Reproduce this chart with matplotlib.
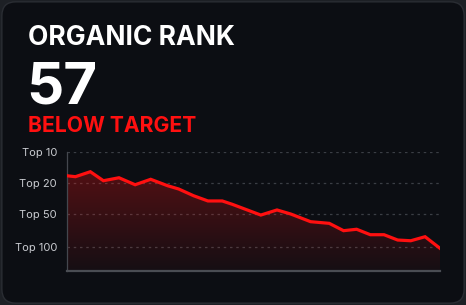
import matplotlib
matplotlib.use("Agg")
import matplotlib.pyplot as plt
import numpy as np
from matplotlib.patches import FancyBboxPatch

# data (x = day, y = visibility score 0..100)
days = [0, 0.7, 1.9, 2.95, 4.2, 5.5, 6.75, 8.1, 9.0, 10.2, 11.35, 12.5, 13.3,
        15.6, 16.9, 18.0, 19.6, 21.1, 22.25, 23.3, 24.4, 25.5, 26.6, 27.65, 28.8, 30]
score = [80.2, 79.4, 83.6, 76.0, 78.5, 72.6, 77.2, 71.8, 69.0, 63.3, 58.9, 58.9, 56.1,
         47.0, 51.3, 47.9, 41.4, 40.0, 33.8, 35.0, 30.4, 30.4, 25.9, 25.3, 28.7, 18.9]
tick_scores = [100, 74, 48, 20]
tick_labels = ["Top 10", "Top 20", "Top 50", "Top 100"]

title = "ORGANIC RANK"
current_rank = "57"
status = "BELOW TARGET"

BG = "#0c0e13"
RED = "#ff1010"

plt.rcParams['font.family'] = ['Inter', 'DejaVu Sans']

fig = plt.figure(figsize=(4.66, 3.05), dpi=100, facecolor="#1d2025")

# card background
card = FancyBboxPatch((0.004, 0.006), 0.992, 0.988,
                      boxstyle="round,pad=0,rounding_size=0.03",
                      transform=fig.transFigure, facecolor=BG,
                      edgecolor="#2a2d33", linewidth=1.0, mutation_aspect=466 / 305,
                      zorder=-10)
fig.patches.append(card)

# header texts
fig.text(28 / 466, 1 - 45 / 305, title, color="white", fontsize=19,
         fontweight="bold", va="baseline", ha="left")
fig.text(26 / 466, 1 - 103 / 305, current_rank, color="white", fontsize=42,
         fontweight="bold", va="baseline", ha="left")
fig.text(28 / 466, 1 - 132 / 305, status, color=RED, fontsize=15.2,
         fontweight="bold", va="baseline", ha="left")

ax = fig.add_axes([66.7 / 466, 1 - 270.7 / 305, (440 - 66.7) / 466, (270.7 - 152.3) / 305])
ax.set_zorder(5)
ax.set_facecolor("none")
ax.set_xlim(days[0], days[-1])
ax.set_ylim(0, 100)

# gradient fill under the line
fill = ax.fill_between(days, score, 0, facecolor="none", edgecolor="none")
grad = np.zeros((100, 2, 4))
grad[:, :, 0] = 1.0
grad[:, :, 1] = 0.08
grad[:, :, 2] = 0.08
alpha = np.linspace(0.04, 0.30, 100)
grad[:, :, 3] = alpha[:, None]
img = ax.imshow(grad, aspect="auto", extent=[days[0], days[-1], 0, 88],
                origin="lower", zorder=1, interpolation="bilinear")
img.set_clip_path(fill.get_paths()[0], transform=ax.transData)

ax.plot(days, score, color=RED, linewidth=2.3, solid_joinstyle="miter", zorder=3)

for t in tick_scores:
    ax.axhline(t, color="#3b3e45", linewidth=0.9, linestyle=(0, (2, 3)), zorder=0)

ax.set_yticks(tick_scores)
ax.set_yticklabels(tick_labels)
ax.set_xticks([])
ax.tick_params(axis="y", length=0, pad=7, labelsize=8, labelcolor="#c9cbd0")
for s in ["top", "right"]:
    ax.spines[s].set_visible(False)
ax.spines["left"].set_color("#44474e")
ax.spines["left"].set_linewidth(0.9)
ax.spines["bottom"].set_color("#4a4d53")
ax.spines["bottom"].set_linewidth(1.6)

fig.savefig("out.png", dpi=100, facecolor=fig.get_facecolor())
